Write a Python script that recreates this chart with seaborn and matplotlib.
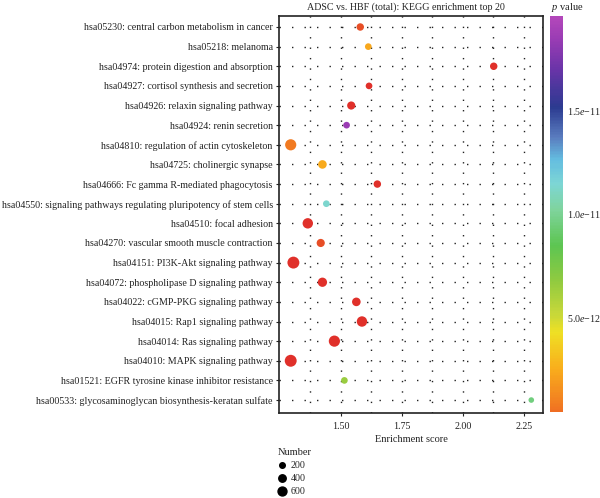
import numpy as np
import pandas as pd
import matplotlib
matplotlib.use('Agg')
import matplotlib.pyplot as plt
import seaborn as sns
from matplotlib.colors import LinearSegmentedColormap, ListedColormap, Normalize
from matplotlib.cm import ScalarMappable
from matplotlib.lines import Line2D

# KEGG terms, top to bottom
pathways = [
    'hsa05230: central carbon metabolism in cancer',
    'hsa05218: melanoma',
    'hsa04974: protein digestion and absorption',
    'hsa04927: cortisol synthesis and secretion',
    'hsa04926: relaxin signaling pathway',
    'hsa04924: renin secretion',
    'hsa04810: regulation of actin cytoskeleton',
    'hsa04725: cholinergic synapse',
    'hsa04666: Fc gamma R-mediated phagocytosis',
    'hsa04550: signaling pathways regulating pluripotency of stem cells',
    'hsa04510: focal adhesion',
    'hsa04270: vascular smooth muscle contraction',
    'hsa04151: PI3K-Akt signaling pathway',
    'hsa04072: phospholipase D signaling pathway',
    'hsa04022: cGMP-PKG signaling pathway',
    'hsa04015: Rap1 signaling pathway',
    'hsa04014: Ras signaling pathway',
    'hsa04010: MAPK signaling pathway',
    'hsa01521: EGFR tyrosine kinase inhibitor resistance',
    'hsa00533: glycosaminoglycan biosynthesis-keratan sulfate',
]
enrichment = [1.579, 1.612, 2.126, 1.615, 1.542, 1.523, 1.294, 1.424, 1.649, 1.440,
              1.364, 1.417, 1.305, 1.424, 1.563, 1.586, 1.473, 1.294, 1.514, 2.280]
numbers = [400, 310, 400, 310, 490, 310, 970, 550, 400, 310,
           835, 490, 1110, 650, 550, 835, 970, 1110, 310, 200]
pvalues = [2.5e-13, 2.3e-12, 1e-16, 1e-16, 1e-16, 1.85e-11, 8e-13, 2.4e-12, 1e-16, 1.13e-11,
           1e-16, 3e-13, 1e-16, 1e-16, 1e-16, 1e-16, 1e-16, 1e-16, 6.5e-12, 9.5e-12]

cbar_ticks = [5e-12, 1e-11, 1.5e-11]
cbar_labels = ['5.0$e$\u221212', '1.0$e$\u221211', '1.5$e$\u221211']
legend_numbers = [200, 400, 600]

sns.set_theme(style='white')
plt.rcParams['font.family'] = ['Liberation Serif', 'DejaVu Serif']
plt.rcParams['mathtext.fontset'] = 'custom'
plt.rcParams['mathtext.rm'] = 'Liberation Serif'
plt.rcParams['mathtext.it'] = 'Liberation Serif:italic'

df = pd.DataFrame({'Pathway': pathways, 'Enrichment': enrichment,
                   'Number': numbers, 'p': pvalues})

# colour scale (red below the shown range)
vmax = 1.952e-11
vlow = 4.8e-13
stops = [(0.0, '#e0302a'), (5e-13, '#f07222'), (2.5e-12, '#f9ae1c'), (4.3e-12, '#efe024'),
         (5.2e-12, '#c5d73a'), (6.8e-12, '#8fca40'), (8.5e-12, '#5dc552'), (1.02e-11, '#7fd49d'),
         (1.15e-11, '#7dd6d5'), (1.26e-11, '#64bde0'), (1.37e-11, '#5a7dbf'), (1.52e-11, '#2b3a90'),
         (1.7e-11, '#6a34a8'), (1.85e-11, '#9a3cb4'), (vmax, '#b247ba')]
cmap = LinearSegmentedColormap.from_list('pv', [(v / vmax, c) for v, c in stops])
norm = Normalize(0, vmax)


def area(n):
    # marker area in points^2 (diameter^2 in px, then px -> pt)
    return 1.25 * (5.5 + 0.0975 * n) * 0.72 ** 2


fig = plt.figure(figsize=(6, 4.98), dpi=100)
ax = fig.add_axes([279 / 600, 1 - 413 / 498, 264 / 600, 397 / 498])

sns.scatterplot(data=df, x='Enrichment', y='Pathway', hue='p', palette=cmap, hue_norm=norm,
                size='Number', sizes={n: area(n) for n in set(numbers)},
                linewidth=0, legend=False, ax=ax, zorder=3)

ax.set_xlim(1.246, 2.328)
ax.set_ylim(len(pathways) - 1 + 0.66, -0.56)
ax.set_xticks([1.5, 1.75, 2.0, 2.25])
ax.set_xticklabels(['1.50', '1.75', '2.00', '2.25'])
ax.set_xticks([1.375, 1.625, 1.875, 2.125], minor=True)
ax.grid(axis='y', color='#222222', linewidth=1.0, linestyle=(0, (1, 8)))
ax.grid(axis='x', which='both', color='#222222', linewidth=1.0, linestyle=(0, (1, 6.5)))
ax.set_axisbelow(True)
ax.tick_params(axis='both', which='major', direction='out', length=2.5, width=0.8,
               color='#222222', labelsize=7.2, pad=2, labelcolor='#222222')
ax.tick_params(axis='x', which='minor', length=0)
ax.tick_params(axis='x', pad=4)
ax.tick_params(left=True, bottom=True)
for s in ax.spines.values():
    s.set_color('#222222')
    s.set_linewidth(1.2)
ax.set_xlabel('Enrichment score', fontsize=7.5, labelpad=3, color='#222222')
ax.set_ylabel('')

fig.text(406 / 600, 1 - 7 / 498, 'ADSC vs. HBF (total): KEGG enrichment top 20',
         ha='center', va='center', fontsize=7.2, color='#222222')

# colour bar
cax = fig.add_axes([550 / 600, 1 - 412 / 498, 13 / 600, 396 / 498])
cmap_bar = ListedColormap(cmap(np.linspace(vlow / vmax, 1, 256)))
cb = fig.colorbar(ScalarMappable(norm=Normalize(vlow, vmax), cmap=cmap_bar), cax=cax)
cb.outline.set_visible(False)
cb.set_ticks(cbar_ticks)
cb.set_ticklabels(cbar_labels)
cax.tick_params(direction='in', color='white', length=3, width=1, left=True, right=True,
                labelsize=7.2, pad=3, labelcolor='#222222')
fig.text(551 / 600, 1 - 8 / 498, '$p$ value', ha='left', va='center', fontsize=7.5, color='#222222')

# size legend
fig.text(278 / 600, 1 - 452 / 498, 'Number', ha='left', va='center', fontsize=7.5, color='#222222')
handles = [Line2D([], [], linestyle='', marker='o', color='black',
                  markersize=np.sqrt(area(n))) for n in legend_numbers]
leg = fig.legend(handles, [str(n) for n in legend_numbers],
                 loc='upper left', bbox_to_anchor=(278 / 600, 1 - 461 / 498), frameon=False,
                 fontsize=7.2, handlelength=0.8,
                 handletextpad=0.5, labelspacing=0.4, borderaxespad=0, borderpad=0)

fig.savefig('out.png', dpi=100)
